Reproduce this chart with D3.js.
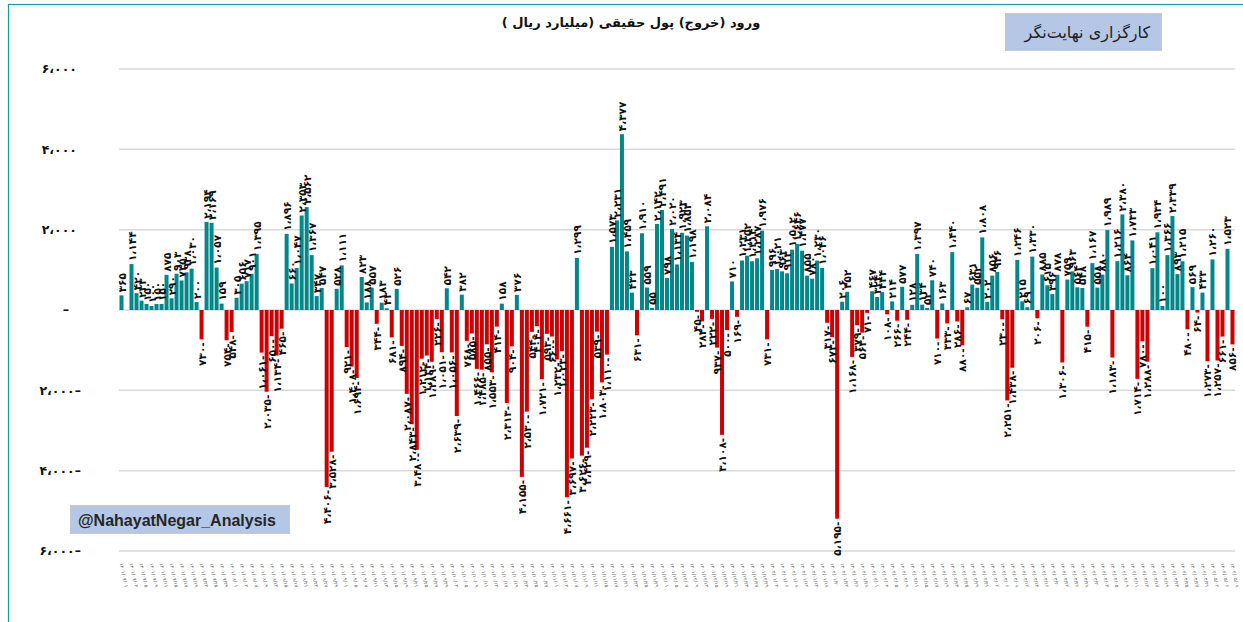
<!DOCTYPE html>
<html>
<head>
<meta charset="utf-8">
<script src="https://cdn.jsdelivr.net/npm/d3@7"></script>
<style>
    body { margin: 0; background: #fff; }
    svg { display: block; }
</style>
</head>
<body>
<svg width="1243" height="622"></svg>
<script>
// daily net inflow (outflow) of individual money, billion rials
const values = [
    365, null, 1144, 420, 233, 150, 100, 150, 150, 875,
    290, 903, 735, 938, 1030, 200, -730, 2194, 2169, 1057,
    159, -754, -548, 305, 656, 717, 901, 1395, -1061, -2035,
    -650, -1134, -465, 1896, 660, 1047, 2353, 2562, 1367, 347,
    547, -4406, -3528, 528, 1111, -921, -1408, -1694, 823, 188,
    557, -344, 183, 43, -681, 526, -894, -2087, -2843, -3480,
    -1212, -1134, -1289, -226, -1051, 542, -1056, -2639, 382, -768,
    -585, -1466, -1485, -855, -1553, -414, 158, -2313, -904, 376,
    -4155, -2530, -544, -404, -1721, -593, -660, -1232, -1023, -4661,
    -3697, 1299, -3626, -3429, -2223, -539, -1803, -1110, 1573, 2231,
    4377, 1459, 433, -631, 1910, 559, 55, 2142, 2491, 798,
    2020, 1134, 1923, 1853, 1198, -45, -284, 2084, -222, -937,
    -3108, -500, 710, -169, 1231, 1352, 1214, 1287, 1976, -731,
    996, 1021, 963, 913, 1502, 1646, 1477, 855, 780, 1230,
    1046, -317, -673, -5195, 206, 452, -1168, -379, -563, -71,
    467, 324, 444, -108, 214, -266, 577, -244, 128, 1397,
    134, 52, 740, -710, 163, -333, 1440, -286, -880, 67,
    631, 552, 1808, 202, 856, 946, -230, -2251, -1438, 1246,
    215, 69, 1330, -206, 885, 615, 396, 878, -1306, 759,
    963, 564, 548, -415, 1167, 558, 880, 1989, -1183, 1216,
    2380, 864, 1733, -1714, -780, -1288, 1041, 1934, 100, 1366,
    2339, 893, 1215, -480, 569, -64, 433, -1273, 1260, -1257,
    -661, 1523, -856
];

const yTicks = [-6000, -4000, -2000, 0, 2000, 4000, 6000];

const title = "ورود (خروج) پول حقیقی (میلیارد ریال )";
const brand = "کارگزاری نهایت‌نگر";
const handle = "@NahayatNegar_Analysis";

// trading days (Sat..Wed) of the jalali calendar, starting 1401/07/01
const startDay = [1401, 7, 1];
const monthLen = [31, 31, 31, 31, 31, 31, 30, 30, 30, 30, 30, 29];

const faDigits = "۰۱۲۳۴۵۶۷۸۹";
function fa(s) {
    return String(s).replace(/[0-9]/g, c => faDigits[+c]);
}
function pad2(n) { return n < 10 ? "0" + n : "" + n; }

function buildDates(n) {
    let dates = [];
    let [yy, mm, dd] = startDay;
    let dow = 0; // 0 = saturday
    while (dates.length < n) {
        if (dow < 5) {
            dates.push(fa(yy + "/" + pad2(mm) + "/" + pad2(dd)));
        }
        dow = (dow + 1) % 7;
        dd++;
        if (dd > monthLen[mm - 1]) {
            dd = 1;
            mm++;
            if (mm > 12) { mm = 1; yy++; }
        }
    }
    return dates;
}
const categories = buildDates(values.length);

// "4,377" -> "۴،۳۷۷" ; negative numbers get the minus at the end
function fmtValue(v) {
    let s = fa(d3.format(",")(Math.abs(v))).replace(/,/g, "،");
    return v < 0 ? s + "-" : s;
}

let svg = d3.select("svg"),
    width = +svg.attr("width"),
    height = +svg.attr("height");

let x = d3.scaleBand()
    .domain(d3.range(values.length))
    .range([119, 1235])
    .paddingInner(0.2)
    .paddingOuter(0.1);

let y = d3.scaleLinear()
    .domain([-6000, 6000])
    .range([551, 69]);

// outer frame
svg.append("rect")
    .attr("x", 8.5).attr("y", 4.5)
    .attr("width", 1250).attr("height", 640)
    .attr("fill", "none")
    .attr("stroke", "#1d9a9a")
    .attr("stroke-width", 1.2);

// gridlines
svg.append("g")
    .selectAll("line")
    .data(yTicks)
    .enter().append("line")
    .attr("x1", 119).attr("x2", 1235)
    .attr("y1", d => y(d)).attr("y2", d => y(d))
    .attr("stroke", "#d9d9d9")
    .attr("stroke-width", 1.5);

// y axis labels
svg.append("g")
    .selectAll("text")
    .data(yTicks)
    .enter().append("text")
    .attr("x", d => d === 0 ? 69 : (d < 0 ? 81 : 77))
    .attr("y", d => y(d))
    .attr("dy", "0.35em")
    .attr("text-anchor", "end")
    .style("font-family", "DejaVu Sans")
    .style("font-weight", "bold")
    .style("font-size", "12.5px")
    .attr("fill", "#111")
    .text(d => {
        if (d === 0) return "–";
        let s = fa(d3.format(",")(Math.abs(d))).replace(/,/g, "،");
        return d < 0 ? s + "–" : s;
    });

let data = values.map((v, i) => ({ i: i, v: v })).filter(d => d.v !== null);

// bars
svg.append("g")
    .selectAll("rect")
    .data(data)
    .enter().append("rect")
    .attr("x", d => x(d.i))
    .attr("width", x.bandwidth())
    .attr("y", d => Math.min(y(d.v), y(0)))
    .attr("height", d => Math.abs(y(d.v) - y(0)))
    .attr("fill", d => d.v >= 0 ? "#00878a" : "#cc0000");

// data labels, rotated
svg.append("g")
    .selectAll("text")
    .data(data)
    .enter().append("text")
    .attr("transform", d => {
        let cx = x(d.i) + x.bandwidth() / 2;
        let cy = d.v >= 0 ? y(d.v) - 3 : y(d.v) + 3;
        return "translate(" + cx + "," + cy + ") rotate(-90)";
    })
    .attr("text-anchor", d => d.v >= 0 ? "start" : "end")
    .attr("dominant-baseline", "central")
    .style("font-family", "DejaVu Sans")
    .style("font-weight", "bold")
    .style("font-size", "10.5px")
    .attr("fill", "#111")
    .text(d => fmtValue(d.v));

// x axis date labels, every second day
svg.append("g")
    .selectAll("text")
    .data(categories.filter((c, i) => i % 2 === 0).map((c, k) => ({ i: k * 2, c: c })))
    .enter().append("text")
    .attr("transform", d => "translate(" + (x(d.i) + x.bandwidth() / 2) + ",563) rotate(78)")
    .attr("text-anchor", "start")
    .attr("dominant-baseline", "central")
    .style("font-family", "DejaVu Sans")
    .style("font-size", "5px")
    .attr("fill", "#6f6f6f")
    .text(d => d.c);

// title
svg.append("text")
    .attr("x", 631).attr("y", 27)
    .attr("text-anchor", "middle")
    .style("direction", "rtl")
    .style("unicode-bidi", "embed")
    .style("font-family", "DejaVu Sans")
    .style("font-weight", "bold")
    .style("font-size", "13px")
    .attr("fill", "#111")
    .text(title);

// brand box, top right
svg.append("rect")
    .attr("x", 1005.5).attr("y", 13.5)
    .attr("width", 156).attr("height", 37)
    .attr("fill", "#b4c7e7")
    .attr("stroke", "#c9c9c9");
svg.append("text")
    .attr("x", 1150).attr("y", 32)
    .attr("dy", "0.35em")
    .attr("text-anchor", "start")
    .style("direction", "rtl")
    .style("unicode-bidi", "embed")
    .style("font-family", "DejaVu Sans")
    .style("font-size", "16px")
    .attr("fill", "#222")
    .text(brand);

// handle box, bottom left
svg.append("rect")
    .attr("x", 70.5).attr("y", 505.5)
    .attr("width", 219).attr("height", 28)
    .attr("fill", "#b4c7e7")
    .attr("stroke", "#c9c9c9");
svg.append("text")
    .attr("x", 78).attr("y", 520)
    .attr("dy", "0.35em")
    .style("font-family", "Liberation Sans, Arial, sans-serif")
    .style("font-weight", "bold")
    .style("font-size", "16px")
    .attr("fill", "#262626")
    .text(handle);
</script>
</body>
</html>
